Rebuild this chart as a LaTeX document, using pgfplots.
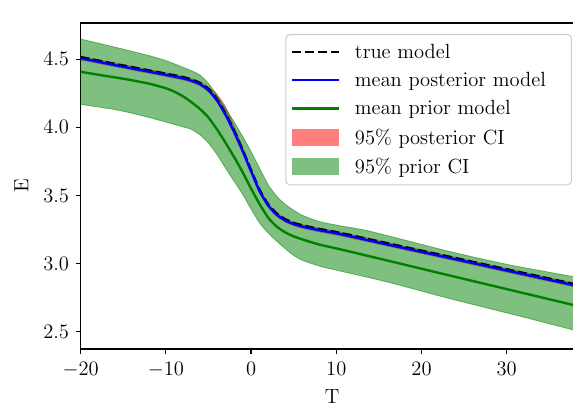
\RequirePackage{fix-cm}
\documentclass[border=0pt]{standalone}
\usepackage[OT1]{fontenc}
\usepackage{pgfplots}
\pgfplotsset{compat=1.18}
\usepgfplotslibrary{fillbetween}
\definecolor{mblue}{HTML}{0000FF}
\definecolor{mgreen}{HTML}{008000}
\definecolor{mred}{HTML}{FF0000}
\newcommand{\fs}{\fontsize{15.4}{18.5}\selectfont}

\begin{document}
\begin{tikzpicture}
\begin{axis}[
    scale only axis,
    width=377pt, height=244.5pt,
    xmin=-20, xmax=39,
    ymin=2.373, ymax=4.766,
    xtick={-20,-10,0,10,20,30},
    ytick={2.5,3.0,3.5,4.0,4.5},
    tick label style={font=\fs},
    xticklabel style={yshift=-3pt},
    yticklabel style={xshift=-1.5pt, /pgf/number format/.cd, fixed, fixed zerofill, precision=1},
    tick align=outside,
    xtick pos=bottom, ytick pos=left,
    major tick length=3.75pt,
    axis line style={line width=0.9pt},
    tick style={line width=0.9pt, black},
    xlabel={T}, ylabel={E},
    every axis x label/.style={at={(axis description cs:0.5,0)}, yshift=-35.8pt, anchor=center, font=\fs},
    every axis y label/.style={at={(axis description cs:0,0.5)}, xshift=-44.5pt, rotate=90, anchor=center, font=\fs},
    legend style={
        at={(axis description cs:0.9773,0.9663)}, anchor=north east,
        font=\fs,
        draw=black!20, line width=0.8pt,
        rounded corners=3pt,
        fill=white, fill opacity=0.8, text opacity=1,
        row sep=5pt,
        inner xsep=4pt, inner ysep=5pt,
        /tikz/every odd column/.append style={column sep=9pt},
    },
    legend cell align={left},
    legend image code/.code={\draw[#1, sharp corners] (0pt,0pt) -- (35pt,0pt);},
]

% ---- legend entries (in matplotlib order) ----
\addlegendimage{black, line width=1.8pt, dash pattern=on 6.7pt off 2.9pt}
\addlegendentry{true model}
\addlegendimage{mblue, line width=1.8pt}
\addlegendentry{mean posterior model\hspace*{13pt}}
\addlegendimage{mgreen, line width=1.8pt}
\addlegendentry{mean prior model}
\addlegendimage{legend image code/.code={\fill[mred, fill opacity=0.5, draw=none, sharp corners] (0pt,-6.4pt) rectangle (35pt,6.4pt);}}
\addlegendentry{95\% posterior CI}
\addlegendimage{legend image code/.code={\fill[mgreen, fill opacity=0.5, draw=none, sharp corners] (0pt,-6.4pt) rectangle (35pt,6.4pt);}}
\addlegendentry{95\% prior CI}

% ---- posterior CI ----
\addplot[name path=postup, draw=none, smooth, tension=0.4, forget plot] coordinates {
(-20,4.525) (-18,4.500) (-16,4.475) (-14,4.451) (-12,4.427) (-10,4.403) (-8,4.378)
(-7,4.360) (-6,4.337) (-5,4.300) (-4,4.247) (-3,4.157) (-2,4.017) (-1,3.857) (0,3.699)
(1,3.550) (2,3.445) (3,3.377) (4,3.335) (5,3.308) (6,3.290) (8,3.263) (10.4,3.235)
(16.3,3.154) (23.3,3.059) (30,2.967) (37.7,2.862) (39,2.844)};
\addplot[name path=postlo, draw=none, smooth, tension=0.4, forget plot] coordinates {
(-20,4.492) (-18,4.467) (-16,4.442) (-14,4.418) (-12,4.394) (-10,4.370) (-8,4.345)
(-7,4.327) (-6,4.302) (-5,4.257) (-4,4.182) (-3,4.077) (-2,3.952) (-1,3.812) (0,3.662)
(1,3.517) (2,3.412) (3,3.344) (4,3.302) (5,3.275) (6,3.257) (8,3.230) (10.4,3.202)
(16.3,3.121) (23.3,3.026) (30,2.934) (37.7,2.829) (39,2.811)};
\addplot[fill=mred, fill opacity=0.5, draw=none, forget plot] fill between[of=postup and postlo];

% ---- prior CI ----
\addplot[name path=priup, draw=mgreen, draw opacity=0.5, line width=0.6pt, smooth, tension=0.4, forget plot] coordinates {
(-20,4.648) (-18,4.619) (-16,4.589) (-14,4.558) (-12,4.527) (-10,4.490) (-8,4.441)
(-7,4.416) (-6,4.384) (-5,4.322) (-4,4.235) (-3,4.140) (-2,4.040) (-1,3.935) (0,3.822)
(1,3.700) (2,3.580) (3,3.495) (4,3.435) (5,3.392) (6,3.355) (8,3.309) (10.4,3.278)
(13.9,3.238) (23.3,3.089) (30.3,2.991) (37.7,2.906) (39,2.890)};
\addplot[name path=prilo, draw=mgreen, draw opacity=0.5, line width=0.6pt, smooth, tension=0.4, forget plot] coordinates {
(-20,4.169) (-18,4.150) (-16,4.131) (-14,4.104) (-12,4.073) (-10,4.039) (-8,4.004)
(-7,3.985) (-6,3.945) (-5,3.885) (-4,3.800) (-3,3.702) (-2,3.605) (-1,3.510) (0,3.400)
(1,3.298) (2,3.225) (3,3.165) (4,3.110) (5,3.060) (6,3.025) (8,2.982) (10,2.952)
(16,2.865) (23.5,2.740) (31.3,2.618) (37.7,2.515) (39,2.490)};
\addplot[fill=mgreen, fill opacity=0.5, draw=none, forget plot] fill between[of=priup and prilo];

% ---- lines ----
\addplot[black, line width=1.8pt, dash pattern=on 6.7pt off 2.9pt, smooth, tension=0.4, forget plot] coordinates {
(-20,4.516) (-18,4.491) (-16,4.466) (-14,4.442) (-12,4.418) (-10,4.394) (-8,4.369)
(-7,4.351) (-6,4.326) (-5,4.281) (-4,4.206) (-3,4.101) (-2,3.976) (-1,3.836) (0,3.686)
(1,3.541) (2,3.436) (3,3.368) (4,3.326) (5,3.299) (6,3.281) (8,3.254) (10.4,3.226)
(16.3,3.145) (23.3,3.050) (30,2.958) (37.7,2.853) (39,2.835)};
\addplot[mblue, line width=1.8pt, smooth, tension=0.4, forget plot] coordinates {
(-20,4.507) (-18,4.482) (-16,4.457) (-14,4.433) (-12,4.409) (-10,4.385) (-8,4.360)
(-7,4.342) (-6,4.317) (-5,4.272) (-4,4.197) (-3,4.092) (-2,3.967) (-1,3.827) (0,3.677)
(1,3.532) (2,3.427) (3,3.359) (4,3.317) (5,3.290) (6,3.272) (8,3.245) (10.4,3.217)
(16.3,3.136) (23.3,3.041) (30,2.949) (37.7,2.844) (39,2.826)};
\addplot[mgreen, line width=1.8pt, smooth, tension=0.4, forget plot] coordinates {
(-20,4.408) (-18,4.387) (-16,4.367) (-14,4.346) (-12,4.321) (-11,4.305) (-10,4.287)
(-9,4.262) (-8,4.228) (-7,4.185) (-6,4.135) (-5,4.072) (-4,3.985) (-3,3.887) (-2,3.783)
(-1,3.672) (0,3.550) (1,3.437) (2,3.338) (3,3.272) (4,3.230) (5,3.200) (6,3.178)
(8,3.140) (10.4,3.106) (16.3,3.018) (23.3,2.913) (30,2.813) (37.7,2.698) (39,2.679)};

\node[anchor=south west, inner sep=0pt, font=\fontsize{10}{12}\selectfont]
    at ([xshift=1pt, yshift=3pt]rel axis cs:0,1) {$\times10^{10}$};
\end{axis}
% page = 573x408 px at 0.75pt per px
\pgfresetboundingbox
\useasboundingbox (-60.5pt,-44.25pt) rectangle (369.2pt,261.75pt);
\end{tikzpicture}
\end{document}
